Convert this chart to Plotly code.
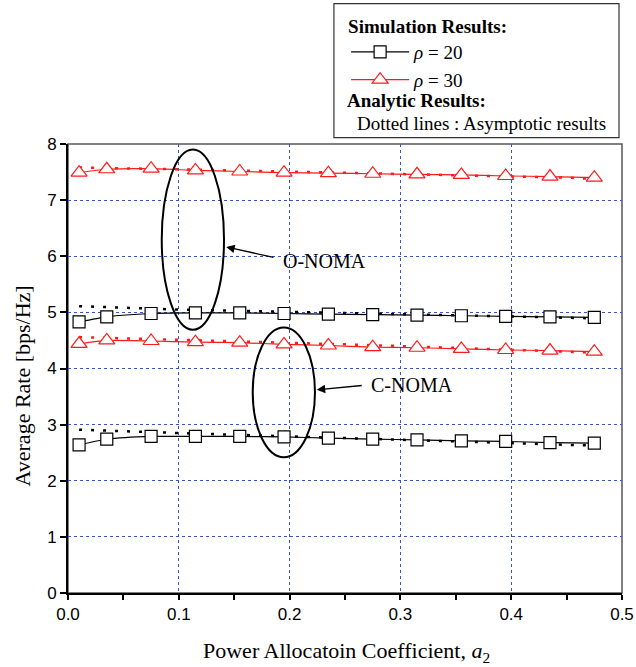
import plotly.graph_objects as go

# ---------------- data ----------------
x_sim = [0.01, 0.035, 0.075, 0.115, 0.155, 0.195, 0.235, 0.275, 0.315, 0.355, 0.395, 0.435, 0.475]
onoma_rho20 = [4.83, 4.92, 4.98, 4.99, 4.99, 4.98, 4.97, 4.96, 4.95, 4.94, 4.93, 4.92, 4.91]
onoma_rho30 = [7.49, 7.55, 7.56, 7.53, 7.51, 7.49, 7.48, 7.47, 7.46, 7.45, 7.43, 7.42, 7.40]
cnoma_rho20 = [2.64, 2.74, 2.79, 2.79, 2.79, 2.78, 2.76, 2.74, 2.73, 2.71, 2.70, 2.68, 2.67]
cnoma_rho30 = [4.44, 4.50, 4.49, 4.47, 4.46, 4.43, 4.41, 4.38, 4.37, 4.35, 4.33, 4.32, 4.30]

x_asym = [0.01, 0.05, 0.1, 0.15, 0.2, 0.25, 0.3, 0.35, 0.4, 0.45, 0.485]
onoma_rho20_asym = [5.11, 5.08, 5.05, 5.03, 5.01, 4.99, 4.97, 4.95, 4.93, 4.91, 4.89]
onoma_rho30_asym = [7.58, 7.57, 7.55, 7.53, 7.51, 7.49, 7.47, 7.45, 7.43, 7.40, 7.37]
cnoma_rho20_asym = [2.91, 2.88, 2.85, 2.82, 2.79, 2.77, 2.74, 2.71, 2.68, 2.65, 2.62]
cnoma_rho30_asym = [4.56, 4.54, 4.51, 4.48, 4.46, 4.43, 4.40, 4.37, 4.34, 4.30, 4.27]

x_ticks = [0.0, 0.1, 0.2, 0.3, 0.4, 0.5]
x_ticklabels = ["0.0", "0.1", "0.2", "0.3", "0.4", "0.5"]
y_ticks = [0, 1, 2, 3, 4, 5, 6, 7, 8]

# ellipse regions (data coords)
onoma_ellipse = dict(x0=0.0846, x1=0.1408, y0=4.69, y1=7.90)
cnoma_ellipse = dict(x0=0.1667, x1=0.2229, y0=2.42, y1=4.73)

BLACK = "#000000"
RED = "#ff1a1a"
SERIF = "Liberation Serif, Times New Roman, serif"
SANS = "Liberation Sans, Arial, sans-serif"

fig = go.Figure()

# asymptotic dotted lines
for y, c in [(onoma_rho30_asym, RED), (onoma_rho20_asym, BLACK),
             (cnoma_rho30_asym, RED), (cnoma_rho20_asym, BLACK)]:
    fig.add_trace(go.Scatter(x=x_asym, y=y, mode="lines",
                             line=dict(color=c, width=2.5, dash="3px,9px"),
                             showlegend=False, hoverinfo="skip"))

# simulation curves
sim = [(onoma_rho20, BLACK, "square", 12, "<i>ρ</i> = 20", True),
       (onoma_rho30, RED, "triangle-up", 14, "<i>ρ</i> = 30", True),
       (cnoma_rho20, BLACK, "square", 12, "<i>ρ</i> = 20", False),
       (cnoma_rho30, RED, "triangle-up", 14, "<i>ρ</i> = 30", False)]
for y, c, sym, sz, name, leg in sim:
    fig.add_trace(go.Scatter(
        x=x_sim, y=y, mode="lines+markers", name=name, showlegend=leg,
        line=dict(color=c, width=1.2, shape="spline", smoothing=0.6),
        marker=dict(symbol=sym, size=sz, color="white",
                    line=dict(color=c, width=1.2))))

shapes = [
    # frame (thin gray top/right)
    dict(type="rect", xref="paper", yref="paper", x0=0, x1=1, y0=0, y1=1,
         line=dict(color="#555555", width=1.5), layer="below"),
    # ellipses
    dict(type="circle", xref="x", yref="y", line=dict(color=BLACK, width=2), **onoma_ellipse),
    dict(type="circle", xref="x", yref="y", line=dict(color=BLACK, width=2), **cnoma_ellipse),
    # legend box
    dict(type="rect", xref="paper", yref="paper", x0=0.480, x1=0.9946, y0=1.014, y1=1.3125,
         line=dict(color="#333333", width=1.2), fillcolor="white", layer="below"),
]

annotations = [
    # arrows
    dict(x=0.1428, y=6.165, ax=0.1868, ay=5.974, xref="x", yref="y", axref="x", ayref="y",
         text="", showarrow=True, arrowhead=2, arrowsize=1.3, arrowwidth=1.3, arrowcolor=BLACK),
    dict(x=0.2245, y=3.62, ax=0.2665, ay=3.70, xref="x", yref="y", axref="x", ayref="y",
         text="", showarrow=True, arrowhead=2, arrowsize=1.3, arrowwidth=1.3, arrowcolor=BLACK),
    dict(x=0.1922, y=5.908, xref="x", yref="y", text="O-NOMA", showarrow=False,
         xanchor="left", yanchor="middle", font=dict(family=SERIF, size=20, color=BLACK)),
    dict(x=0.2718, y=3.70, xref="x", yref="y", text="C-NOMA", showarrow=False,
         xanchor="left", yanchor="middle", font=dict(family=SERIF, size=20, color=BLACK)),
    # legend extras
    dict(x=0.500, y=1.097, xref="paper", yref="paper", text="<b>Analytic Results:</b>",
         showarrow=False, xanchor="left", yanchor="middle",
         font=dict(family=SERIF, size=19, color=BLACK)),
    dict(x=0.518, y=1.045, xref="paper", yref="paper", text="Dotted lines : Asymptotic results",
         showarrow=False, xanchor="left", yanchor="middle",
         font=dict(family=SERIF, size=19, color=BLACK)),
    # axis titles
    dict(x=0.502, y=-0.131, xref="paper", yref="paper",
         text="Power Allocatoin Coefficient, <i>a</i><sub>2</sub>",
         showarrow=False, xanchor="center", yanchor="middle",
         font=dict(family=SERIF, size=22, color=BLACK)),
    dict(x=-0.083, y=0.46, xref="paper", yref="paper", text="Average Rate [bps/Hz]",
         textangle=-90, showarrow=False, xanchor="center", yanchor="middle",
         font=dict(family=SERIF, size=22, color=BLACK)),
]

grid = dict(showgrid=True, gridcolor="#3355cc", gridwidth=1, griddash="dot")

fig.update_layout(
    width=636, height=667,
    margin=dict(l=68, r=14, t=144, b=74, autoexpand=False),
    paper_bgcolor="white", plot_bgcolor="white",
    showlegend=True,
    legend=dict(x=0.502, y=1.302, xanchor="left", yanchor="top",
                bgcolor="rgba(0,0,0,0)", borderwidth=0, itemwidth=58,
                title=dict(text="<b>Simulation Results:</b>",
                           font=dict(family=SERIF, size=19, color=BLACK)),
                font=dict(family=SERIF, size=19, color=BLACK),
                tracegroupgap=0),
    xaxis=dict(range=[0, 0.5], tickvals=x_ticks, ticktext=x_ticklabels,
               ticks="outside", ticklen=5, tickwidth=1.5, tickcolor=BLACK,
               minor=dict(dtick=0.05, ticks="outside", ticklen=5, tickwidth=1.5,
                          tickcolor=BLACK, showgrid=False),
               showline=True, linecolor=BLACK, linewidth=2, zeroline=False,
               tickfont=dict(family=SANS, size=17, color=BLACK), **grid),
    yaxis=dict(range=[0, 8], tickvals=y_ticks,
               ticks="outside", ticklen=6, tickwidth=1.5, tickcolor=BLACK,
               showline=True, linecolor=BLACK, linewidth=2, zeroline=False,
               tickfont=dict(family=SANS, size=17, color=BLACK), **grid),
    shapes=shapes,
    annotations=annotations,
)

# remove the default page margin so the figure sits at the window's top-left corner
fig.write_html("out.html",
               config={"displayModeBar": False},
               post_script="document.body.style.margin='0';document.body.style.overflow='hidden';")
